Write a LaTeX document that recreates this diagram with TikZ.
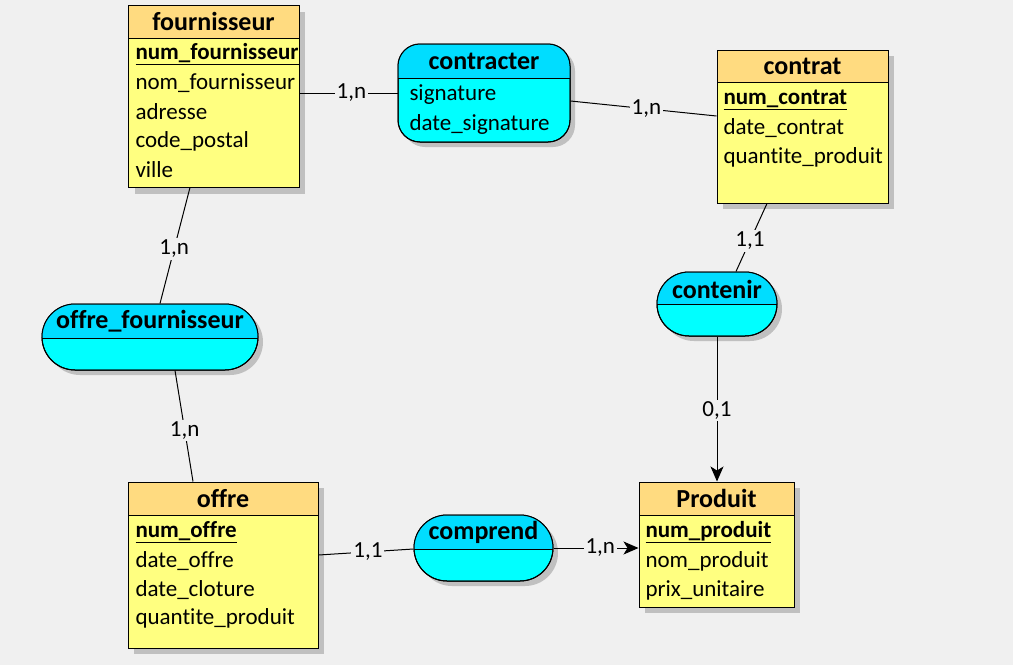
\documentclass[tikz,border=0pt]{standalone}
\usepackage{fontspec}
\setmainfont{Carlito}[Ligatures={NoCommon}]
\usetikzlibrary{arrows.meta}

\definecolor{fond}{HTML}{F0F0F0}
\definecolor{entete}{HTML}{FFDB80}
\definecolor{corps}{HTML}{FFFF80}
\definecolor{assoentete}{HTML}{00DDFF}
\definecolor{assocorps}{HTML}{00FFFF}
\definecolor{ombre}{HTML}{C0C0C0}

\tikzset{
  entite/.style={draw,fill=corps,inner sep=0pt},
  relation/.style={draw,fill=assocorps,inner sep=0pt},
  titre/.style={inner sep=0pt,font=\fontsize{26}{28}\selectfont\bfseries},
  attr/.style={anchor=west,inner sep=0pt,font=\fontsize{23}{25}\selectfont},
  cle/.style={attr,font=\fontsize{23}{25}\selectfont\bfseries},
  card/.style={fill=fond,inner sep=2pt,font=\fontsize{23}{25}\selectfont},
  fleche/.style={-{Stealth[length=15pt,width=13pt,inset=4pt]}},
}

\begin{document}
\begin{tikzpicture}[x=1pt,y=-1pt,line width=1pt]
\fill[fond] (0,0) rectangle (1013,665);
\useasboundingbox (0,0) rectangle (1013,665);

% ombres
\fill[ombre] (135,12) rectangle (305,194);
\fill[ombre] (723,56) rectangle (894,209);
\fill[ombre] (134,488) rectangle (324,654);
\fill[ombre] (645,488) rectangle (800,613);
\fill[ombre,rounded corners=22pt] (403,49) rectangle (575,147);
\fill[ombre,rounded corners=33pt] (47,309) rectangle (263,375);
\fill[ombre,rounded corners=32pt] (662,277) rectangle (782,341);
\fill[ombre,rounded corners=33pt] (419,520) rectangle (558,586);

% fournisseur
\node[entite,minimum width=171pt,minimum height=182pt] (fournisseur) at (213.5,96) {};
\draw[fill=entete] (128,5) rectangle (299,38);
\node[titre] (fournisseur-titre) at (213.5,21.5) {fournisseur};
\node[cle] (num-fournisseur) at (135,54) {\underline{num\_fournisseur}};
\node[attr] (nom-fournisseur) at (135,83) {nom\_fournisseur};
\node[attr] (adresse) at (135,112) {adresse};
\node[attr] (code-postal) at (135,141) {code\_postal};
\node[attr] (ville) at (135,170) {ville};

% contrat
\node[entite,minimum width=171pt,minimum height=153pt] (contrat) at (802.5,126.5) {};
\draw[fill=entete] (717,50) rectangle (888,82);
\node[titre] (contrat-titre) at (802.5,66.5) {contrat};
\node[cle] (num-contrat) at (723,100) {\underline{num\_contrat}};
\node[attr] (date-contrat) at (723,128) {date\_contrat};
\node[attr] (quantite-contrat) at (723,157) {quantite\_produit};

% offre
\node[entite,minimum width=190pt,minimum height=166pt] (offre) at (223,565) {};
\draw[fill=entete] (128,482) rectangle (318,515);
\node[titre] (offre-titre) at (223,498.5) {offre};
\node[cle] (num-offre) at (135,532) {\underline{num\_offre}};
\node[attr] (date-offre) at (135,561) {date\_offre};
\node[attr] (date-cloture) at (135,590) {date\_cloture};
\node[attr] (quantite-offre) at (135,618) {quantite\_produit};

% Produit
\node[entite,minimum width=155pt,minimum height=125pt] (produit) at (716.5,544.5) {};
\draw[fill=entete] (639,482) rectangle (794,515);
\node[titre] (produit-titre) at (716.5,498.5) {Produit};
\node[cle] (num-produit) at (645,532) {\underline{num\_produit}};
\node[attr] (nom-produit) at (645,561) {nom\_produit};
\node[attr] (prix-unitaire) at (645,590) {prix\_unitaire};

% contracter
\node[relation,rounded corners=22pt,minimum width=172pt,minimum height=98pt] (contracter) at (484,93) {};
\begin{scope}
\clip (398,44) rectangle (570,78);
\fill[assoentete,rounded corners=22pt] (398,44) rectangle (570,142);
\end{scope}
\draw[rounded corners=22pt] (398,44) rectangle (570,142);
\draw (398,78) -- (570,78);
\node[titre] (contracter-titre) at (484,61) {contracter};
\node[attr] (signature) at (409,95) {signature};
\node[attr] (date-signature) at (409,124) {date\_signature};

% offre_fournisseur
\node[relation,rounded corners=33pt,minimum width=216pt,minimum height=66pt] (offre-fournisseur) at (150,337) {};
\begin{scope}
\clip (42,304) rectangle (258,338);
\fill[assoentete,rounded corners=33pt] (42,304) rectangle (258,370);
\end{scope}
\draw[rounded corners=33pt] (42,304) rectangle (258,370);
\draw (42,338) -- (258,338);
\node[titre] (offre-fournisseur-titre) at (150,321) {offre\_fournisseur};

% contenir
\node[relation,rounded corners=32pt,minimum width=120pt,minimum height=64pt] (contenir) at (717,304) {};
\begin{scope}
\clip (657,272) rectangle (777,304);
\fill[assoentete,rounded corners=32pt] (657,272) rectangle (777,336);
\end{scope}
\draw[rounded corners=32pt] (657,272) rectangle (777,336);
\draw (657,304) -- (777,304);
\node[titre] (contenir-titre) at (717,289) {contenir};

% comprend
\node[relation,rounded corners=33pt,minimum width=139pt,minimum height=66pt] (comprend) at (483.5,548) {};
\begin{scope}
\clip (414,515) rectangle (553,549);
\fill[assoentete,rounded corners=33pt] (414,515) rectangle (553,581);
\end{scope}
\draw[rounded corners=33pt] (414,515) rectangle (553,581);
\draw (414,549) -- (553,549);
\node[titre] (comprend-titre) at (483.5,532) {comprend};

% liens
\draw (contracter.west) -- (contracter.west -| fournisseur.east) node[card,pos=0.47] (c1) {1,n};
\draw ([yshift=-8pt]contracter.east) -- ([yshift=10.5pt]contrat.west) node[card,pos=0.52] (c2) {1,n};
\draw ([xshift=-35.5pt]contrat.south) -- ([xshift=19pt]contenir.north) node[card,pos=0.55] (c3) {1,1};
\draw[fleche] (contenir.south) -- (contenir.south |- produit.north) node[card,pos=0.51] (c4) {0,1};
\draw ([xshift=-23.5pt]fournisseur.south) -- ([xshift=10pt]offre-fournisseur.north) node[card,pos=0.53] (c5) {1,n};
\draw ([xshift=25pt]offre-fournisseur.south) -- ([xshift=-30pt]offre.north) node[card,pos=0.54] (c6) {1,n};
\draw ([yshift=10pt]offre.east) -- ([yshift=-1pt]comprend.west) node[card,pos=0.52] (c7) {1,1};
\draw[fleche] (comprend.east) -- (comprend.east -| produit.west) node[card,pos=0.55] (c8) {1,n};
\end{tikzpicture}
\end{document}
